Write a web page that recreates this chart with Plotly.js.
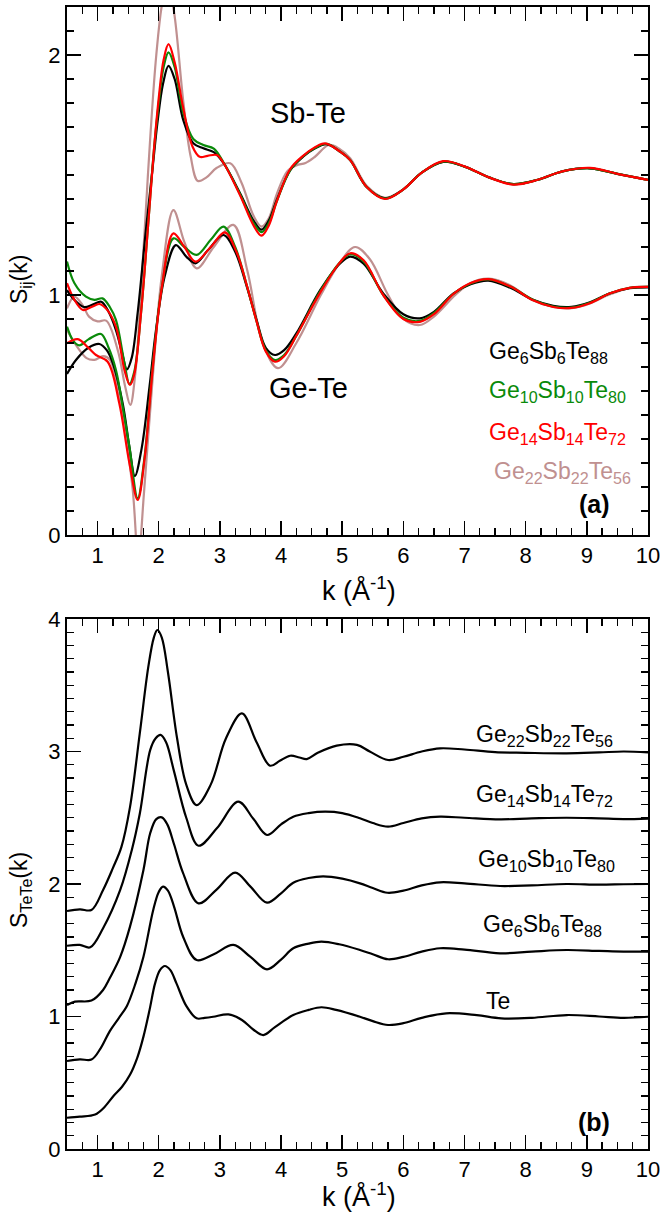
<!DOCTYPE html>
<html>
<head>
<meta charset="utf-8">
<script src="https://cdn.plot.ly/plotly-3.0.1.min.js"></script>
<style>html,body{margin:0;padding:0;background:#fff;}#chart{width:660px;height:1221px;}</style>
</head>
<body>
<div id="chart"></div>
<script>
// ---------- Panel (a): partial structure factors S_ij(k) ----------
const compositions = ["Ge6Sb6Te88", "Ge10Sb10Te80", "Ge14Sb14Te72", "Ge22Sb22Te56"];
const compLabels = ["Ge<sub>6</sub>Sb<sub>6</sub>Te<sub>88</sub>", "Ge<sub>10</sub>Sb<sub>10</sub>Te<sub>80</sub>",
                    "Ge<sub>14</sub>Sb<sub>14</sub>Te<sub>72</sub>", "Ge<sub>22</sub>Sb<sub>22</sub>Te<sub>56</sub>"];
const compColors = ["#000000", "#0a8a0a", "#ff0000", "#c09090"];

// Sb-Te (shifted by +0.5)
const kSbTe_Ge6 = [0.5,0.62,0.78,0.92,1.06,1.18,1.30,1.40,1.48,1.56,1.655,1.79,1.9,1.98,2.07,2.16,2.26,2.40,2.565,2.73,2.9,3.06,3.33,3.55,3.68,3.8,3.93,4.15,4.36,4.55,4.75,4.95,5.13,5.4,5.7,6.0,6.3,6.65,7.0,7.4,7.8,8.2,8.6,9.05,9.5,10.0];
const sSbTe_Ge6 = [1.02,0.98,0.95,0.96,0.972,0.93,0.854,0.76,0.69,0.74,0.924,1.27,1.53,1.72,1.88,1.955,1.9,1.73,1.632,1.611,1.595,1.549,1.424,1.31,1.272,1.31,1.396,1.52,1.576,1.61,1.628,1.6,1.562,1.45,1.403,1.44,1.51,1.555,1.535,1.49,1.462,1.48,1.515,1.528,1.505,1.48];

const kSbTe_Ge10 = [0.5,0.62,0.81,0.95,1.08,1.2,1.3,1.44,1.52,1.6,1.71,1.82,1.92,2.0,2.08,2.16,2.26,2.40,2.565,2.73,2.9,3.06,3.33,3.55,3.68,3.8,3.93,4.15,4.36,4.55,4.75,4.95,5.13,5.4,5.7,6.0,6.3,6.65,7.0,7.4,7.8,8.2,8.6,9.05,9.5,10.0];
const sSbTe_Ge10 = [1.14,1.05,0.993,0.98,0.986,0.95,0.896,0.715,0.629,0.68,0.924,1.27,1.6,1.8,1.95,2.011,1.95,1.76,1.65,1.625,1.61,1.552,1.42,1.30,1.262,1.30,1.39,1.52,1.578,1.612,1.63,1.6,1.562,1.45,1.402,1.44,1.51,1.556,1.535,1.49,1.462,1.48,1.515,1.528,1.505,1.48];

const kSbTe_Ge14 = [0.5,0.62,0.76,0.9,1.03,1.15,1.3,1.44,1.53,1.6,1.71,1.82,1.92,2.0,2.08,2.16,2.26,2.40,2.55,2.67,2.8,2.95,3.06,3.33,3.55,3.68,3.8,3.93,4.15,4.36,4.55,4.72,4.95,5.13,5.4,5.7,6.0,6.3,6.65,7.0,7.4,7.8,8.2,8.6,9.05,9.5,10.0];
const sSbTe_Ge14 = [1.049,0.98,0.9375,0.95,0.9625,0.94,0.868,0.687,0.625,0.67,0.924,1.27,1.6,1.82,1.98,2.045,1.97,1.78,1.62,1.576,1.58,1.583,1.55,1.415,1.29,1.247,1.29,1.39,1.525,1.58,1.615,1.632,1.6,1.562,1.45,1.40,1.44,1.51,1.558,1.536,1.49,1.46,1.48,1.515,1.53,1.505,1.48];

const kSbTe_Ge22 = [0.5,0.62,0.75,0.86,1.0,1.14,1.33,1.45,1.535,1.62,1.7,1.77,1.86,1.96,2.06,2.15,2.25,2.4,2.52,2.64,2.78,2.95,3.17,3.35,3.55,3.68,3.8,3.93,4.1,4.25,4.4,4.55,4.78,4.95,5.13,5.4,5.7,6.0,6.3,6.65,7.0,7.4,7.8,8.2,8.6,9.05,9.5,10.0];
const sSbTe_Ge22 = [0.944,0.993,0.96,0.91,0.89,0.893,0.77,0.62,0.542,0.68,0.98,1.27,1.65,2.0,2.22,2.3,2.18,1.81,1.58,1.475,1.49,1.53,1.549,1.47,1.33,1.285,1.32,1.42,1.515,1.54,1.55,1.575,1.625,1.61,1.57,1.455,1.405,1.44,1.51,1.555,1.535,1.49,1.462,1.48,1.515,1.528,1.505,1.48];

// Ge-Te
const kGeTe_Ge6 = [0.5,0.65,0.85,1.03,1.15,1.25,1.41,1.52,1.61,1.72,1.85,1.955,2.1,2.28,2.45,2.6,2.8,3.06,3.25,3.44,3.6,3.75,3.9,4.05,4.25,4.64,4.96,5.13,5.35,5.67,6.0,6.27,6.5,6.82,7.1,7.39,7.75,8.12,8.45,8.75,9.05,9.38,9.7,10.0];
const sGeTe_Ge6 = [0.671,0.73,0.78,0.796,0.77,0.715,0.549,0.368,0.246,0.36,0.62,0.854,1.08,1.208,1.16,1.132,1.185,1.25,1.18,1.035,0.896,0.78,0.75,0.77,0.84,1.02,1.13,1.16,1.13,1.007,0.92,0.903,0.93,1.007,1.045,1.06,1.03,0.98,0.955,0.951,0.97,1.007,1.028,1.032];

const kGeTe_Ge10 = [0.5,0.6,0.7,0.85,1.056,1.18,1.3,1.42,1.52,1.656,1.77,1.9,2.05,2.24,2.42,2.62,2.85,3.06,3.25,3.44,3.6,3.75,3.9,4.05,4.25,4.64,4.96,5.13,5.35,5.67,6.0,6.27,6.5,6.82,7.1,7.39,7.75,8.12,8.45,8.75,9.05,9.38,9.7,10.0];
const sGeTe_Ge10 = [0.868,0.81,0.79,0.815,0.8375,0.78,0.6875,0.52,0.368,0.153,0.33,0.7,1.03,1.236,1.2,1.167,1.23,1.285,1.2,1.04,0.89,0.77,0.729,0.75,0.83,1.015,1.135,1.17,1.14,1.0,0.905,0.892,0.925,1.005,1.048,1.065,1.035,0.98,0.952,0.948,0.968,1.007,1.03,1.034];

const kGeTe_Ge14 = [0.5,0.675,0.85,0.974,1.165,1.355,1.52,1.656,1.77,1.9,2.05,2.24,2.42,2.6,2.85,3.08,3.27,3.44,3.6,3.75,3.9,4.05,4.25,4.64,4.96,5.13,5.35,5.67,6.0,6.27,6.5,6.82,7.1,7.39,7.75,8.12,8.45,8.75,9.05,9.38,9.7,10.0];
const sGeTe_Ge14 = [0.799,0.816,0.78,0.75,0.722,0.549,0.3,0.146,0.32,0.69,1.03,1.257,1.2,1.139,1.2,1.261,1.18,1.04,0.89,0.765,0.722,0.745,0.83,1.01,1.135,1.174,1.145,1.0,0.9,0.888,0.92,1.005,1.05,1.066,1.035,0.978,0.95,0.946,0.966,1.007,1.03,1.034];

const kGeTe_Ge22 = [0.5,0.65,0.82,0.95,1.09,1.2,1.355,1.57,1.665,1.76,1.9,2.05,2.24,2.42,2.62,2.9,3.22,3.45,3.7,3.95,4.25,4.65,4.95,5.21,5.45,5.75,6.0,6.27,6.5,6.85,7.1,7.4,7.75,8.1,8.45,8.75,9.05,9.35,9.7,10.0];
const sGeTe_Ge22 = [0.854,0.79,0.737,0.73,0.745,0.73,0.576,0.2,-0.1,0.18,0.65,1.08,1.354,1.22,1.111,1.2,1.292,1.1,0.8,0.695,0.8,1.0,1.13,1.2,1.15,1.0,0.9,0.875,0.91,1.0,1.05,1.068,1.04,0.98,0.95,0.945,0.965,1.0,1.03,1.035];

// ---------- Panel (b): S_TeTe(k), offsets of 0.5 ----------
const tetNames = ["Te", "Ge6Sb6Te88", "Ge10Sb10Te80", "Ge14Sb14Te72", "Ge22Sb22Te56"];
const tetLabels = ["Te", "Ge<sub>6</sub>Sb<sub>6</sub>Te<sub>88</sub>", "Ge<sub>10</sub>Sb<sub>10</sub>Te<sub>80</sub>",
                   "Ge<sub>14</sub>Sb<sub>14</sub>Te<sub>72</sub>", "Ge<sub>22</sub>Sb<sub>22</sub>Te<sub>56</sub>"];

const kTeTe_Te = [0.5,0.71,0.96,1.1,1.26,1.4,1.53,1.65,1.75,1.85,1.94,2.02,2.1,2.19,2.29,2.45,2.62,2.75,2.89,3.14,3.36,3.55,3.71,3.9,4.2,4.45,4.66,4.9,5.29,5.5,5.75,6.0,6.3,6.7,7.2,7.6,8.1,8.67,9.2,9.6,10.0];
const sTeTe_Te = [0.236,0.244,0.26,0.31,0.4,0.47,0.56,0.69,0.848,1.05,1.25,1.35,1.381,1.35,1.25,1.08,0.986,0.99,0.998,1.016,0.974,0.9,0.86,0.92,1.011,1.05,1.07,1.05,0.998,0.965,0.936,0.95,0.99,1.024,1.01,0.986,0.99,1.011,1.0,0.99,0.998];

const kTeTe_Ge6 = [0.5,0.71,0.9,1.05,1.2,1.35,1.48,1.62,1.75,1.91,2.0,2.07,2.15,2.25,2.4,2.62,2.9,3.22,3.5,3.77,4.0,4.2,4.45,4.66,4.95,5.29,5.5,5.75,6.0,6.3,6.6,7.0,7.58,8.1,8.67,9.2,9.6,10.0];
const sTeTe_Ge6 = [0.664,0.677,0.675,0.76,0.89,0.99,1.08,1.25,1.451,1.804,1.94,1.98,1.95,1.83,1.6,1.426,1.47,1.54,1.45,1.356,1.43,1.515,1.55,1.565,1.545,1.502,1.47,1.432,1.45,1.49,1.515,1.505,1.477,1.49,1.502,1.495,1.49,1.489];

const kTeTe_Ge10 = [0.5,0.63,0.9,1.09,1.2,1.37,1.53,1.75,1.86,1.96,2.05,2.14,2.25,2.4,2.65,2.95,3.25,3.5,3.77,4.0,4.2,4.45,4.69,5.0,5.29,5.5,5.74,6.0,6.3,6.6,7.0,7.58,8.1,8.67,9.2,9.6,10.0];
const sTeTe_Ge10 = [1.087,1.112,1.12,1.2,1.29,1.45,1.678,2.106,2.383,2.49,2.503,2.45,2.3,2.08,1.854,1.96,2.086,1.98,1.859,1.93,2.01,2.045,2.058,2.04,2.005,1.97,1.934,1.95,1.99,2.013,2.005,1.985,1.99,2.0,1.995,1.998,2.0];

const kTeTe_Ge14 = [0.5,0.71,0.88,1.09,1.37,1.56,1.69,1.86,1.95,2.03,2.12,2.25,2.45,2.65,2.95,3.3,3.55,3.77,4.0,4.2,4.45,4.72,5.0,5.29,5.5,5.75,6.0,6.3,6.6,7.0,7.58,8.1,8.67,9.2,9.6,10.0];
const sTeTe_Ge14 = [1.534,1.54,1.522,1.666,1.955,2.257,2.53,3.01,3.1,3.125,3.07,2.85,2.5,2.289,2.42,2.621,2.49,2.37,2.45,2.508,2.535,2.546,2.535,2.496,2.46,2.433,2.46,2.495,2.508,2.5,2.488,2.495,2.5,2.495,2.49,2.494];

const kTeTe_Ge22 = [0.5,0.71,0.9,1.09,1.25,1.39,1.53,1.69,1.83,1.92,1.977,2.05,2.15,2.3,2.45,2.62,2.85,3.1,3.36,3.6,3.82,3.98,4.15,4.3,4.42,4.6,4.91,5.24,5.45,5.75,6.0,6.3,6.6,7.0,7.5,8.0,8.67,9.2,9.6,10.0];
const sTeTe_Ge22 = [1.796,1.809,1.804,1.955,2.12,2.28,2.58,3.137,3.64,3.86,3.917,3.86,3.6,3.1,2.75,2.596,2.75,3.1,3.288,3.07,2.893,2.93,2.968,2.955,2.943,2.99,3.044,3.05,3.0,2.936,2.96,3.0,3.024,3.015,2.995,2.99,2.986,2.993,3.0,2.994];

// Axis tick labels
const xTickVals = [1,2,3,4,5,6,7,8,9,10];
const yTickValsA = [0,1,2];
const yTickValsB = [0,1,2,3,4];

// ---------- build traces ----------
const FONT = "Liberation Sans, Arial, Helvetica, sans-serif";
const sbK = [kSbTe_Ge6, kSbTe_Ge10, kSbTe_Ge14, kSbTe_Ge22];
const sbS = [sSbTe_Ge6, sSbTe_Ge10, sSbTe_Ge14, sSbTe_Ge22];
const geK = [kGeTe_Ge6, kGeTe_Ge10, kGeTe_Ge14, kGeTe_Ge22];
const geS = [sGeTe_Ge6, sGeTe_Ge10, sGeTe_Ge14, sGeTe_Ge22];
const traces = [];
const order = [3, 0, 1, 2];
order.forEach(i => {
  traces.push({x: geK[i], y: geS[i], xaxis: 'x2', yaxis: 'y2', mode: 'lines', name: compositions[i] + ' Ge-Te',
    line: {color: compColors[i], width: 2.2, shape: 'spline', smoothing: 1}, showlegend: false, hoverinfo: 'skip'});
  traces.push({x: sbK[i], y: sbS[i], xaxis: 'x2', yaxis: 'y2', mode: 'lines', name: compositions[i] + ' Sb-Te',
    line: {color: compColors[i], width: 2.2, shape: 'spline', smoothing: 1}, showlegend: false, hoverinfo: 'skip'});
});
const tK = [kTeTe_Te, kTeTe_Ge6, kTeTe_Ge10, kTeTe_Ge14, kTeTe_Ge22];
const tS = [sTeTe_Te, sTeTe_Ge6, sTeTe_Ge10, sTeTe_Ge14, sTeTe_Ge22];
tK.forEach((k, i) => {
  traces.push({x: k, y: tS[i], xaxis: 'x', yaxis: 'y', mode: 'lines', name: tetNames[i],
    line: {color: '#000', width: 2.2, shape: 'spline', smoothing: 1}, showlegend: false, hoverinfo: 'skip'});
});

// ---------- layout ----------
const W = 660, H = 1221, ML = 67, MR = 12, MT = 7, MB = 72;
const PW = W - ML - MR, PH = H - MT - MB;
const px = x => (x - ML) / PW;
const py = y => (H - MB - y) / PH;

function axisX(anchor) {
  return {anchor: anchor, domain: [0, 1], range: [0.5, 10], tickmode: 'array', tickvals: xTickVals,
    ticktext: xTickVals.map(String), ticks: 'inside', ticklen: 14, tickwidth: 1.5, tickcolor: '#000',
    ticklabeloverflow: 'allow',
    minor: {ticks: 'inside', dtick: 0.25, tick0: 0, ticklen: 7, tickwidth: 1.3, tickcolor: '#000'},
    showline: true, linewidth: 2, linecolor: '#000', mirror: 'allticks', showgrid: false, zeroline: false,
    tickfont: {family: FONT, size: 22, color: '#000'}, fixedrange: true};
}
function axisY(anchor, domain, range, vals) {
  return {anchor: anchor, domain: domain, range: range, tickmode: 'array', tickvals: vals, ticktext: vals.map(String),
    ticks: 'inside', ticklen: 14, tickwidth: 1.5, tickcolor: '#000', ticklabeloverflow: 'allow',
    minor: {ticks: 'inside', dtick: 0.1, tick0: 0, ticklen: 7, tickwidth: 1.3, tickcolor: '#000'},
    showline: true, linewidth: 2, linecolor: '#000', mirror: 'allticks', showgrid: false, zeroline: false,
    tickfont: {family: FONT, size: 22, color: '#000'}, fixedrange: true};
}

const ann = [];
function addText(text, x, y, opts) {
  ann.push(Object.assign({text: text, x: px(x), y: py(y), xref: 'paper', yref: 'paper', showarrow: false,
    xanchor: 'center', yanchor: 'middle', font: {family: FONT, size: 22, color: '#000'}}, opts || {}));
}
// panel (a)
addText('Sb-Te', 308, 113, {font: {family: FONT, size: 29, color: '#000'}});
addText('Ge-Te', 308, 388, {font: {family: FONT, size: 29, color: '#000'}});
const legY = [353, 391, 433, 472];
const legX = [487, 487, 487, 492];
compLabels.forEach((t, i) => addText(t, legX[i], legY[i], {xanchor: 'left', font: {family: FONT, size: 23, color: compColors[i]}}));
addText('<b>(a)</b>', 594, 504, {font: {family: FONT, size: 25, color: '#000'}});
// panel (b)
const tetLabX = [498, 542, 546, 544, 544];
const tetLabY = [1001, 926, 860, 795, 735];
tetLabels.forEach((t, i) => addText(t, tetLabX[i], tetLabY[i], {font: {family: FONT, size: 23, color: '#000'}}));
addText('<b>(b)</b>', 594, 1122, {font: {family: FONT, size: 25, color: '#000'}});
// axis titles
addText('k (Å<sup>-1</sup>)', 359, 589, {font: {family: FONT, size: 27, color: '#000'}});
addText('k (Å<sup>-1</sup>)', 359, 1195, {font: {family: FONT, size: 27, color: '#000'}});
addText('S<sub>ij</sub>(k)', 20, 280, {textangle: -90, font: {family: FONT, size: 23, color: '#000'}});
addText('S<sub>TeTe</sub>(k)', 20, 890, {textangle: -90, font: {family: FONT, size: 23, color: '#000'}});

const domTop = [py(535), py(MT)];
const domBot = [py(1149), py(619)];

const layout = {
  width: W, height: H, margin: {l: ML, r: MR, t: MT, b: MB, pad: 0},
  paper_bgcolor: '#fff', plot_bgcolor: '#fff', showlegend: false,
  font: {family: FONT, color: '#000'},
  xaxis: axisX('y'),
  yaxis: axisY('x', domBot, [0, 4], yTickValsB),
  xaxis2: axisX('y2'),
  yaxis2: axisY('x2', domTop, [0, 2.2], yTickValsA),
  annotations: ann
};

Plotly.newPlot('chart', traces, layout, {staticPlot: true, displayModeBar: false});
</script>
</body>
</html>
